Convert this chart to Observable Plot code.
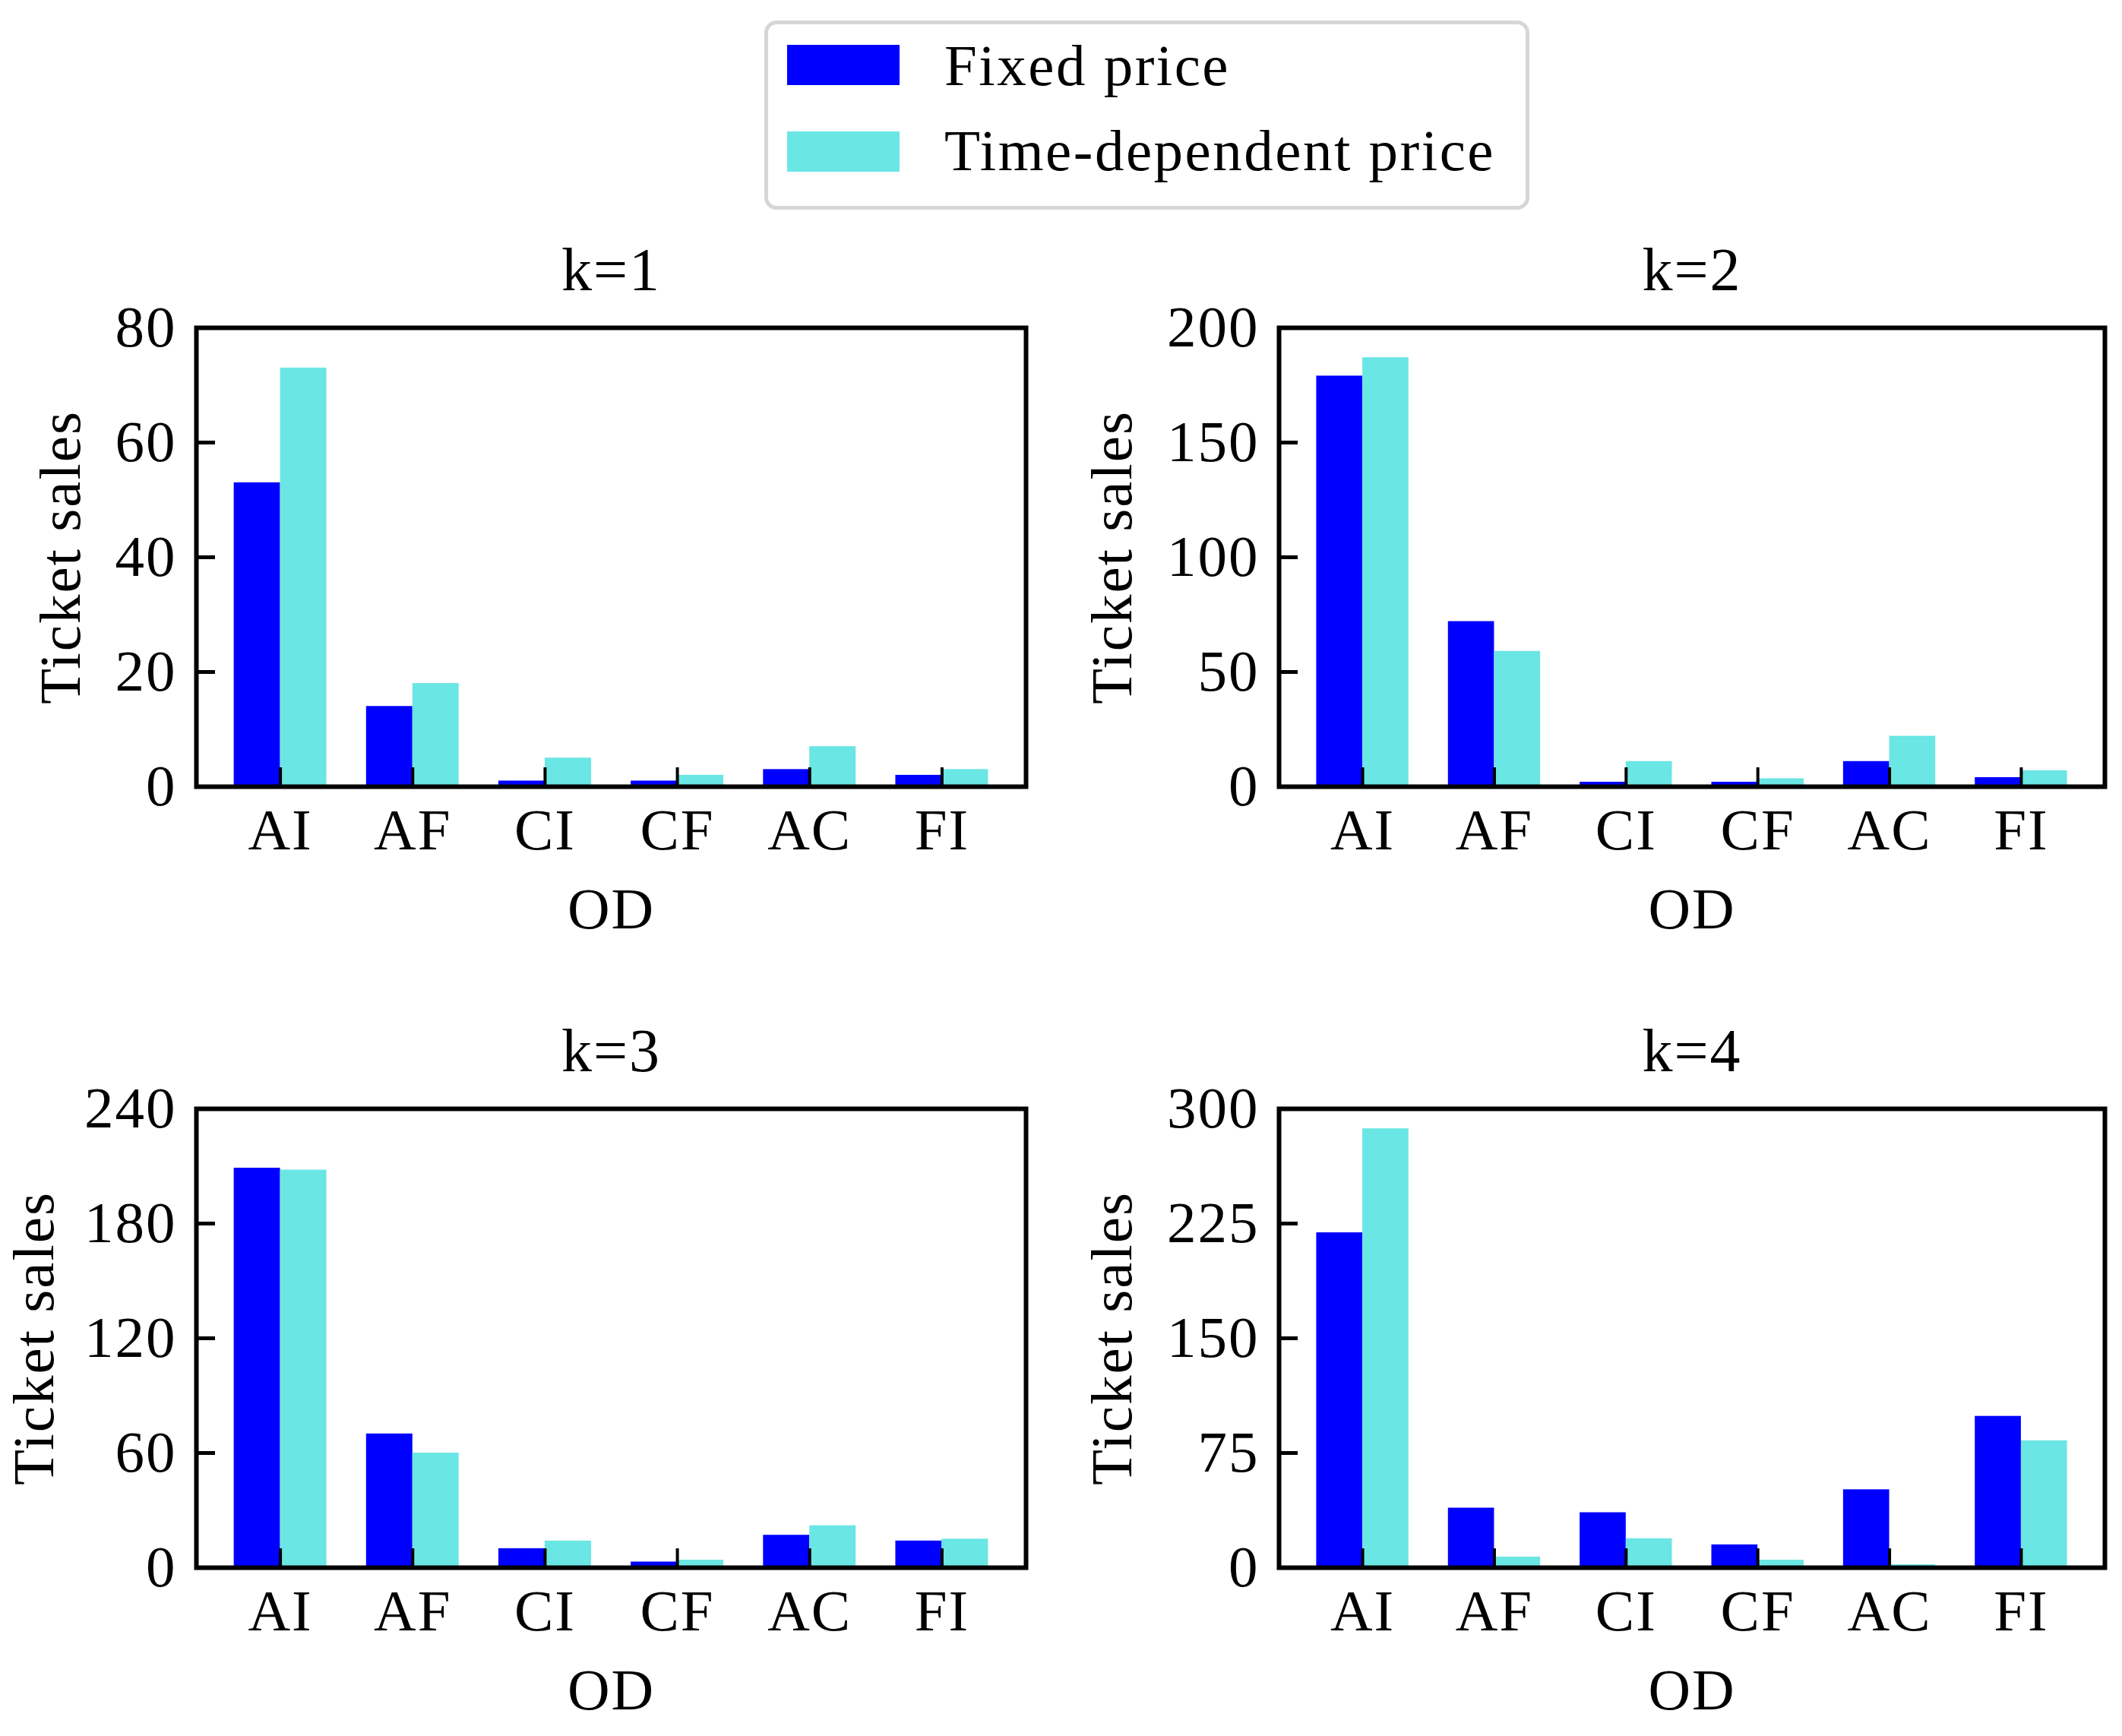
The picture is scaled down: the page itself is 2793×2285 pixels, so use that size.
<!DOCTYPE html>
<html>
<head>
<meta charset="utf-8">
<script src="https://cdn.jsdelivr.net/npm/d3@7"></script>
<script src="https://cdn.jsdelivr.net/npm/@observablehq/plot@0.6"></script>
<style>
  html, body { margin: 0; padding: 0; background: #fff; overflow: hidden; }
  #root { position: relative; width: 2793px; height: 2285px; overflow: hidden; font-family: "Liberation Serif", serif; }
  .panel { position: absolute; line-height: 0; }
  .panel svg { display: block; }
  #legend { position: absolute; left: 1006px; top: 27px; width: 997px; height: 239px; border: 5px solid #d6d6d6; border-radius: 16px; background: #fff; }
  .sw { position: absolute; left: 25px; width: 148px; height: 53px; }
  .lt { position: absolute; left: 232px; font-size: 77px; line-height: 77px; letter-spacing: 2.5px; white-space: nowrap; color: #000; }
</style>
</head>
<body>
<div id="root"><div id="legend"></div></div>
<script>
const categories = ["AI", "AF", "CI", "CF", "AC", "FI"];
const series = ["Fixed price", "Time-dependent price"];
const colors = ["#0000ff", "#6ae6e4"];

const titles = ["k=1", "k=2", "k=3", "k=4"];
const fixedK1 = [53, 14, 1, 1, 3, 2];
const timeK1  = [73, 18, 5, 2, 7, 3];
const fixedK2 = [179, 72, 2, 2, 11, 4];
const timeK2  = [187, 59, 11, 3.5, 22, 7];
const fixedK3 = [209, 70, 10, 3, 17, 14];
const timeK3  = [208, 60, 14, 4, 22, 15];
const fixedK4 = [219, 39, 36, 15, 51, 99];
const timeK4  = [287, 7, 19, 5, 2, 83];
const yMaxes  = [80, 200, 240, 300];
const yTicksK1 = [0, 20, 40, 60, 80];
const yTicksK2 = [0, 50, 100, 150, 200];
const yTicksK3 = [0, 60, 120, 180, 240];
const yTicksK4 = [0, 75, 150, 225, 300];

const barWidth = 0.35;
const FS = 77;

// legend
const legend = document.getElementById("legend");
series.forEach((s, j) => {
  const sw = document.createElement("div");
  sw.className = "sw";
  sw.style.top = (27 + j * 114) + "px";
  sw.style.background = colors[j];
  legend.appendChild(sw);
  const t = document.createElement("div");
  t.className = "lt";
  t.style.top = (16 + j * 112) + "px";
  t.textContent = s;
  legend.appendChild(t);
});

const panels = [
  {title: titles[0], fixed: fixedK1, time: timeK1, ymax: yMaxes[0], ticks: yTicksK1, left: 0,    top: 300,  marginLeft: 258, labelDx: -178},
  {title: titles[1], fixed: fixedK2, time: timeK2, ymax: yMaxes[1], ticks: yTicksK2, left: 1396, top: 300,  marginLeft: 287, labelDx: -219},
  {title: titles[2], fixed: fixedK3, time: timeK3, ymax: yMaxes[2], ticks: yTicksK3, left: 0,    top: 1328, marginLeft: 258, labelDx: -213},
  {title: titles[3], fixed: fixedK4, time: timeK4, ymax: yMaxes[3], ticks: yTicksK4, left: 1396, top: 1328, marginLeft: 287, labelDx: -219}
];

const root = document.getElementById("root");
panels.forEach(p => {
  const rows = categories.flatMap((c, i) => [
    {i, c, s: series[0], v: p.fixed[i], x1: i - barWidth, x2: i},
    {i, c, s: series[1], v: p.time[i],  x1: i, x2: i + barWidth}
  ]);
  const W = 1396;
  const chart = Plot.plot({
    width: W,
    height: 955,
    marginLeft: p.marginLeft,
    marginRight: p.left === 0 ? 46 : 22,
    marginTop: 131,
    marginBottom: 220,
    style: {fontFamily: "Liberation Serif, serif", fontSize: FS + "px", background: "transparent", color: "#000", letterSpacing: "2px"},
    x: {domain: [-0.635, categories.length - 1 + 0.635], axis: null},
    y: {domain: [0, p.ymax], axis: null},
    color: {domain: series, range: colors},
    marks: [
      Plot.rectY(rows, {x1: "x1", x2: "x2", y1: 0, y2: "v", fill: "s"}),
      Plot.axisX({ticks: d3.range(categories.length), tickSize: -25, text: null, strokeWidth: 4, label: null, stroke: "#000"}),
      Plot.axisX({ticks: d3.range(categories.length), tickSize: 0, tickPadding: 28, tickFormat: i => categories[i], fontSize: FS, label: null}),
      Plot.axisY({ticks: p.ticks, tickSize: -25, text: null, strokeWidth: 5, label: null, stroke: "#000"}),
      Plot.axisY({ticks: p.ticks, tickSize: 0, tickPadding: 26, fontSize: FS, label: null}),
      Plot.frame({stroke: "#000", strokeWidth: 6}),
      Plot.text([p.title], {frameAnchor: "top", dy: -75, lineAnchor: "middle", textAnchor: "middle", fontSize: FS + 3, text: d => d}),
      Plot.text(["OD"], {frameAnchor: "bottom", dy: 162, lineAnchor: "middle", textAnchor: "middle", fontSize: FS, text: d => d}),
      Plot.text(["Ticket sales"], {frameAnchor: "left", dx: p.labelDx, rotate: -90, lineAnchor: "middle", textAnchor: "middle", fontSize: FS, text: d => d})
    ]
  });
  const wrap = document.createElement("div");
  wrap.className = "panel";
  wrap.style.left = p.left + "px";
  wrap.style.top = p.top + "px";
  wrap.appendChild(chart);
  root.appendChild(wrap);
});
</script>
</body>
</html>
